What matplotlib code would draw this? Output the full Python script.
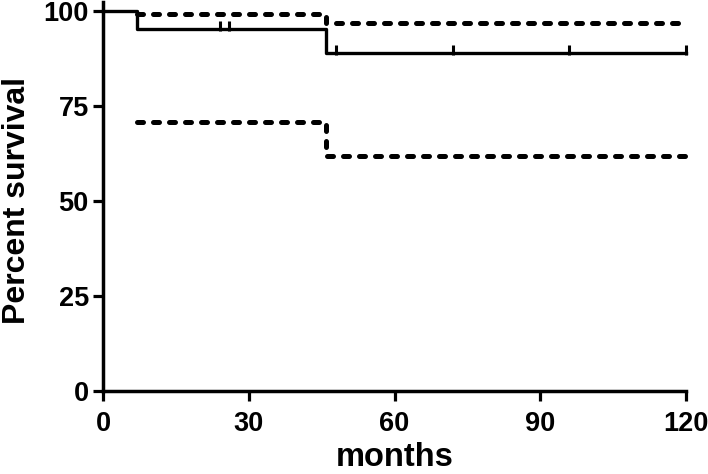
import matplotlib
matplotlib.use("Agg")
import matplotlib.pyplot as plt
from matplotlib.path import Path
import numpy as np

# Kaplan-Meier estimate (step times and survival values)
surv_times = [0, 7, 46, 120]
surv_vals = [100, 95.2, 88.9, 88.9]
# Censored observations
censor_times = [24, 26, 48, 72, 96, 120]
# Confidence band
ci_times = [7, 46, 120]
ci_upper = [99.3, 96.9, 96.9]
ci_lower = [70.8, 61.8, 61.8]

xticks = [0, 30, 60, 90, 120]
yticks = [0, 25, 50, 75, 100]

plt.rcParams['font.family'] = ['Liberation Sans', 'DejaVu Sans']
plt.rcParams['font.weight'] = 'bold'

fig = plt.figure(figsize=(7.08, 4.74), dpi=100)
ax = fig.add_axes([103/708, 1-391/474, (686-103)/708, (391-11)/474])

ax.step(surv_times, surv_vals, where='post', color='black', lw=2.4,
        clip_on=False, zorder=3)

for band in (ci_upper, ci_lower):
    ax.step(ci_times, band, where='post', color='black', lw=3.6,
            linestyle=(0, (1.2, 2.0)), dash_capstyle='round',
            clip_on=False, zorder=2)

def km_at(t):
    idx = np.searchsorted(surv_times, t, side='right') - 1
    return surv_vals[idx]

tick_marker = Path([(0, -0.25), (0, 1.0)], [Path.MOVETO, Path.LINETO])
ax.plot(censor_times, [km_at(t) for t in censor_times], linestyle='none',
        marker=tick_marker, markersize=12, markeredgewidth=2.2,
        color='black', clip_on=False, zorder=4)

ax.set_xlim(0, 120)
ax.set_ylim(0, 100)
ax.set_xticks(xticks)
ax.set_yticks(yticks)
ax.spines['top'].set_visible(False)
ax.spines['right'].set_visible(False)
for s in ('left', 'bottom'):
    ax.spines[s].set_linewidth(2.5)
ax.spines['left'].set_bounds(0, 102.3)
ax.tick_params(axis='both', direction='out', length=7.2, width=2.3,
               labelsize=19.5)
ax.tick_params(axis='x', pad=7)
ax.tick_params(axis='y', pad=3)
for lab in ax.get_xticklabels() + ax.get_yticklabels():
    lab.set_fontweight('bold')

ax.set_xlabel('months', fontsize=23.5, fontweight='bold', labelpad=4)
ax.set_ylabel('Percent survival', fontsize=23, fontweight='bold', labelpad=8)

fig.savefig('out.png', dpi=100)
